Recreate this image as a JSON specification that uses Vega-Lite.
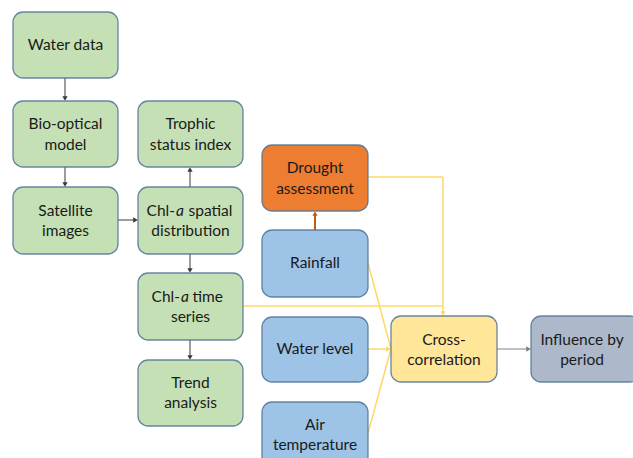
{
  "$schema": "https://vega.github.io/schema/vega-lite/v6.json",
  "width": 633,
  "height": 458,
  "padding": 0,
  "autosize": {"type": "fit", "contains": "padding"},
  "background": "white",
  "config": {"view": {"stroke": null}},
  "datasets": {
    "boxes": [
      {"id": "Water data", "x1": 13, "x2": 118, "y1": 12, "y2": 78, "fill": "#c5e0b4"},
      {"id": "Bio-optical model", "x1": 13, "x2": 118, "y1": 101, "y2": 167, "fill": "#c5e0b4"},
      {"id": "Satellite images", "x1": 13, "x2": 118, "y1": 187, "y2": 254, "fill": "#c5e0b4"},
      {"id": "Trophic status index", "x1": 138, "x2": 243, "y1": 101, "y2": 167, "fill": "#c5e0b4"},
      {"id": "Chl-a spatial distribution", "x1": 138, "x2": 243, "y1": 187, "y2": 254, "fill": "#c5e0b4"},
      {"id": "Chl-a time series", "x1": 138, "x2": 243, "y1": 273, "y2": 340, "fill": "#c5e0b4"},
      {"id": "Trend analysis", "x1": 138, "x2": 243, "y1": 360, "y2": 426, "fill": "#c5e0b4"},
      {"id": "Drought assessment", "x1": 262, "x2": 368, "y1": 145, "y2": 211, "fill": "#ed7d31"},
      {"id": "Rainfall", "x1": 262, "x2": 368, "y1": 230, "y2": 297, "fill": "#9dc3e6"},
      {"id": "Water level", "x1": 262, "x2": 368, "y1": 317, "y2": 382, "fill": "#9dc3e6"},
      {"id": "Air temperature", "x1": 262, "x2": 368, "y1": 402, "y2": 470, "fill": "#9dc3e6"},
      {"id": "Cross-correlation", "x1": 391, "x2": 497, "y1": 316, "y2": 382, "fill": "#ffe699"},
      {"id": "Influence by period", "x1": 531, "x2": 640, "y1": 316, "y2": 382, "fill": "#adb9ca"}
    ],
    "edges": [
      {"x1": 65, "y1": 78, "x2": 65, "y2": 99, "c": "#3a3a3a", "w": 1},
      {"x1": 65, "y1": 167, "x2": 65, "y2": 185, "c": "#3a3a3a", "w": 1},
      {"x1": 118, "y1": 220, "x2": 136, "y2": 220, "c": "#3a3a3a", "w": 1},
      {"x1": 190, "y1": 187, "x2": 190, "y2": 169, "c": "#3a3a3a", "w": 1},
      {"x1": 190, "y1": 254, "x2": 190, "y2": 271, "c": "#3a3a3a", "w": 1},
      {"x1": 190, "y1": 340, "x2": 190, "y2": 358, "c": "#3a3a3a", "w": 1},
      {"x1": 315, "y1": 230, "x2": 315, "y2": 213, "c": "#c55a11", "w": 2},
      {"x1": 368, "y1": 177, "x2": 443, "y2": 177, "c": "#ffd966", "w": 1.5},
      {"x1": 443, "y1": 177, "x2": 443, "y2": 314, "c": "#ffd966", "w": 1.5},
      {"x1": 243, "y1": 306, "x2": 443, "y2": 306, "c": "#ffd966", "w": 1.5},
      {"x1": 368, "y1": 263, "x2": 391, "y2": 349, "c": "#ffd966", "w": 1.5},
      {"x1": 368, "y1": 349, "x2": 389, "y2": 349, "c": "#ffd966", "w": 1.5},
      {"x1": 368, "y1": 433, "x2": 391, "y2": 349, "c": "#ffd966", "w": 1.5},
      {"x1": 497, "y1": 349, "x2": 529, "y2": 349, "c": "#808080", "w": 1}
    ],
    "heads": [
      {"x": 65, "y": 98.5, "shape": "triangle-down", "c": "#3a3a3a"},
      {"x": 65, "y": 184.5, "shape": "triangle-down", "c": "#3a3a3a"},
      {"x": 135.5, "y": 220, "shape": "triangle-right", "c": "#3a3a3a"},
      {"x": 190, "y": 169.5, "shape": "triangle-up", "c": "#3a3a3a"},
      {"x": 190, "y": 270.5, "shape": "triangle-down", "c": "#3a3a3a"},
      {"x": 190, "y": 357.5, "shape": "triangle-down", "c": "#3a3a3a"},
      {"x": 315, "y": 213.5, "shape": "triangle-up", "c": "#c55a11"},
      {"x": 443, "y": 313.5, "shape": "triangle-down", "c": "#ffd966"},
      {"x": 388.5, "y": 349, "shape": "triangle-right", "c": "#ffd966"},
      {"x": 528.5, "y": 349, "shape": "triangle-right", "c": "#808080"}
    ],
    "labels": [
      {"t": "Water data", "x": 65.5, "y": 45, "a": "center"},
      {"t": "Bio-optical", "x": 65.5, "y": 124, "a": "center"},
      {"t": "model", "x": 65.5, "y": 145, "a": "center"},
      {"t": "Satellite", "x": 65.5, "y": 211, "a": "center"},
      {"t": "images", "x": 65.5, "y": 231, "a": "center"},
      {"t": "Trophic", "x": 190.5, "y": 124, "a": "center"},
      {"t": "status index", "x": 190.5, "y": 145, "a": "center"},
      {"t": "Chl-", "x": 175, "y": 211, "a": "right"},
      {"t": "spatial", "x": 188.5, "y": 211, "a": "left"},
      {"t": "distribution", "x": 190.5, "y": 231, "a": "center"},
      {"t": "Chl-", "x": 180, "y": 297, "a": "right"},
      {"t": "time", "x": 192.5, "y": 297, "a": "left"},
      {"t": "series", "x": 190.5, "y": 317, "a": "center"},
      {"t": "Trend", "x": 190.5, "y": 383, "a": "center"},
      {"t": "analysis", "x": 190.5, "y": 403, "a": "center"},
      {"t": "Drought", "x": 315, "y": 168, "a": "center"},
      {"t": "assessment", "x": 315, "y": 189, "a": "center"},
      {"t": "Rainfall", "x": 315, "y": 263, "a": "center"},
      {"t": "Water level", "x": 315, "y": 349, "a": "center"},
      {"t": "Air", "x": 315, "y": 425, "a": "center"},
      {"t": "temperature", "x": 315, "y": 445, "a": "center"},
      {"t": "Cross-", "x": 444, "y": 340, "a": "center"},
      {"t": "correlation", "x": 444, "y": 360, "a": "center"},
      {"t": "Influence by", "x": 582, "y": 340, "a": "center"},
      {"t": "period", "x": 582, "y": 360, "a": "center"}
    ],
    "italics": [
      {"t": "a", "x": 176, "y": 211},
      {"t": "a", "x": 181, "y": 297}
    ]
  },
  "layer": [
    {
      "data": {"name": "edges"},
      "mark": {"type": "rule"},
      "encoding": {
        "x": {"field": "x1", "type": "quantitative", "scale": {"domain": [0, 633], "nice": false, "zero": false}, "axis": null},
        "y": {"field": "y1", "type": "quantitative", "scale": {"domain": [0, 458], "nice": false, "zero": false, "reverse": true}, "axis": null},
        "x2": {"field": "x2"},
        "y2": {"field": "y2"},
        "color": {"field": "c", "type": "nominal", "scale": null, "legend": null},
        "strokeWidth": {"field": "w", "type": "quantitative", "scale": null, "legend": null}
      }
    },
    {
      "data": {"name": "heads"},
      "mark": {"type": "point", "filled": true, "size": 28, "opacity": 1},
      "encoding": {
        "x": {"field": "x", "type": "quantitative"},
        "y": {"field": "y", "type": "quantitative"},
        "shape": {"field": "shape", "type": "nominal", "scale": null, "legend": null},
        "color": {"field": "c", "type": "nominal", "scale": null, "legend": null}
      }
    },
    {
      "data": {"name": "boxes"},
      "mark": {"type": "rect", "cornerRadius": 10, "stroke": "#4f7296", "strokeWidth": 1.3, "strokeOpacity": 0.85, "clip": true},
      "encoding": {
        "x": {"field": "x1", "type": "quantitative"},
        "x2": {"field": "x2"},
        "y": {"field": "y1", "type": "quantitative"},
        "y2": {"field": "y2"},
        "fill": {"field": "fill", "type": "nominal", "scale": null, "legend": null}
      }
    },
    {
      "data": {"name": "labels"},
      "transform": [{"filter": "datum.a === 'center'"}],
      "mark": {"type": "text", "font": "Lato", "fontSize": 15.5, "color": "#1a1a1a", "baseline": "middle", "align": "center"},
      "encoding": {
        "x": {"field": "x", "type": "quantitative"},
        "y": {"field": "y", "type": "quantitative"},
        "text": {"field": "t"}
      }
    },
    {
      "data": {"name": "labels"},
      "transform": [{"filter": "datum.a === 'right'"}],
      "mark": {"type": "text", "font": "Lato", "fontSize": 15.5, "color": "#1a1a1a", "baseline": "middle", "align": "right"},
      "encoding": {
        "x": {"field": "x", "type": "quantitative"},
        "y": {"field": "y", "type": "quantitative"},
        "text": {"field": "t"}
      }
    },
    {
      "data": {"name": "labels"},
      "transform": [{"filter": "datum.a === 'left'"}],
      "mark": {"type": "text", "font": "Lato", "fontSize": 15.5, "color": "#1a1a1a", "baseline": "middle", "align": "left"},
      "encoding": {
        "x": {"field": "x", "type": "quantitative"},
        "y": {"field": "y", "type": "quantitative"},
        "text": {"field": "t"}
      }
    },
    {
      "data": {"name": "italics"},
      "mark": {"type": "text", "font": "Lato", "fontSize": 15.5, "fontStyle": "italic", "color": "#1a1a1a", "baseline": "middle", "align": "left"},
      "encoding": {
        "x": {"field": "x", "type": "quantitative"},
        "y": {"field": "y", "type": "quantitative"},
        "text": {"field": "t"}
      }
    }
  ]
}
